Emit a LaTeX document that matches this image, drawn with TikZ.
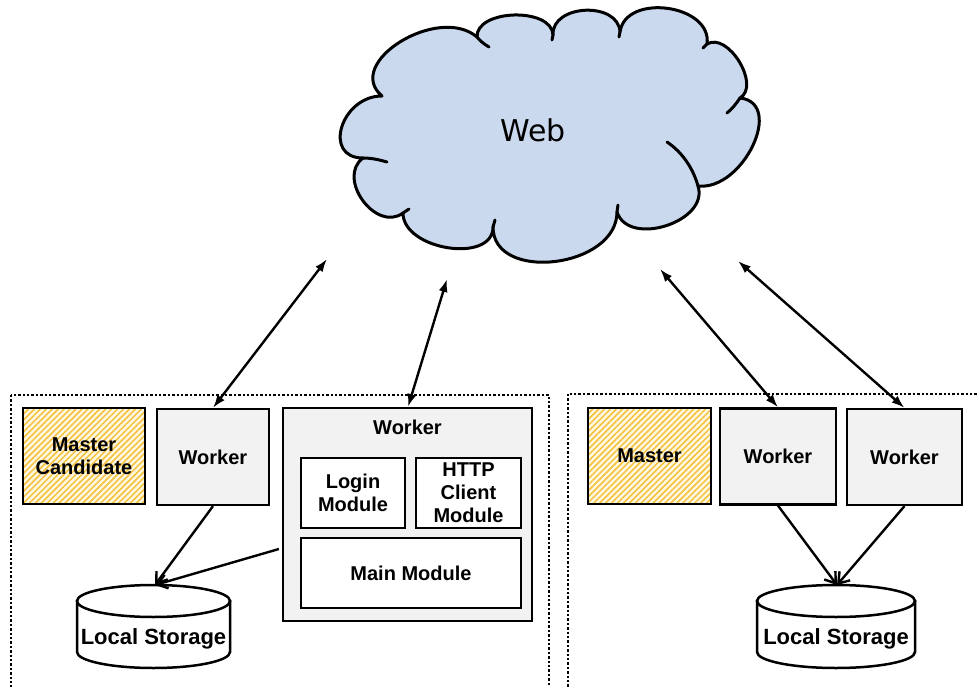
\documentclass[tikz,border=0pt]{standalone}
\usepackage{fontspec}
\setmainfont{Liberation Sans}
\newfontfamily\webfont{DejaVu Sans}
\usetikzlibrary{arrows.meta,patterns.meta,calc}
\definecolor{workerfill}{RGB}{242,242,242}
\definecolor{cloudfill}{RGB}{203,217,238}
\definecolor{masterbg}{RGB}{255,248,224}
\definecolor{masterline}{RGB}{245,192,60}
\tikzset{
  basebox/.style={draw, line width=2.2pt, inner sep=0pt, align=center,
    font=\bfseries\fontsize{20}{23}\selectfont},
  box/.style={basebox, fill=workerfill},
  modbox/.style={basebox, fill=white},
  masterbox/.style={basebox, preaction={fill=masterbg},
    preaction={pattern={Lines[angle=45,distance=4.2pt,line width=1.5pt]}, pattern color=masterline}},
  boxlabel/.style={inner sep=0pt, align=center, font=\bfseries\fontsize{20}{23}\selectfont},
  storelabel/.style={inner sep=0pt, font=\bfseries\fontsize{22}{24}\selectfont},
  container/.style={line width=2.4pt, dash pattern=on 2.4pt off 2pt},
  cloudline/.style={line width=3pt, line join=round},
  cylline/.style={line width=2.5pt, fill=white},
  webarrow/.style={line width=2.4pt, {Latex[length=13pt,width=9pt]}-{Latex[length=13pt,width=9pt]}},
  storearrow/.style={line width=2.4pt, -{Straight Barb[length=10pt,width=14pt,line width=2.4pt]}},
}
\newcommand{\storagecyl}[2]{%
  \begin{scope}[shift={(#1,0)}]
    \draw[cylline] (-#2,601) -- (-#2,652)
      .. controls (-#2,660.84) and ({-0.5523*#2},668) .. (0,668)
      .. controls ({0.5523*#2},668) and (#2,660.84) .. (#2,652)
      -- (#2,601) -- cycle;
    \draw[cylline] (0,601) ellipse[x radius=#2, y radius=16];
  \end{scope}}
\begin{document}
\begin{tikzpicture}[x=1pt,y=-1pt]
\useasboundingbox (0,0) rectangle (977,687);

% containers
\begin{scope}
  \clip (0,0) rectangle (977,687);
  \draw[container] (11,395) rectangle (549,700);
  \draw[container] (568,394) rectangle (990,700);
\end{scope}

% cloud
\draw[cloudline, fill=cloudfill]
  (477,37) .. controls (438,4) and (343,63) .. (382,96)
  .. controls (341,96) and (322,158) .. (363,158)
  .. controls (336,178) and (376,233) .. (403,213)
  .. controls (403,250) and (493,264) .. (493,227)
  .. controls (493,283) and (617,268) .. (617,212)
  .. controls (628.5,247.6) and (709.5,221.6) .. (698,186)
  .. controls (743,191) and (785,103) .. (740,98)
  .. controls (761,85.5) and (728,31.5) .. (707,44)
  .. controls (712.5,4.5) and (625.5,-7.5) .. (620,32)
  .. controls (618.5,1) and (551.5,4) .. (553,35)
  .. controls (552,7) and (476,9) .. (477,37) -- cycle;
\draw[cloudline, line cap=round]
  (477,37) .. controls (480,41) and (484,44) .. (489,47)
  (363,158) .. controls (372,158) and (380,160) .. (387,162)
  (403,213) -- (409,209)
  (493,227) -- (495,220)
  (617,212) -- (618,205)
  (698,186) .. controls (693,168) and (682,152) .. (667,142)
  (740,98) .. controls (736,104) and (732,109) .. (727,113)
  (707,44) -- (703,48)
  (620,32) -- (619,37)
  (553,35) -- (552,40);
\node[inner sep=0pt, font=\webfont\fontsize{30}{36}\selectfont] (web) at (533,130) {Web};

% left cluster
\node[masterbox, minimum width=122, minimum height=96] (mc) at (84,456) {Master\\Candidate};
\node[box, minimum width=112, minimum height=96] (w1) at (213,457) {Worker};
\node[box, minimum width=249, minimum height=213] (bw) at (407.5,514.5) {};
\node[boxlabel] (bwt) at (407.5,427) {Worker};
\node[modbox, minimum width=104, minimum height=70] (login) at (353,493) {Login\\Module};
\node[modbox, minimum width=105, minimum height=70] (http) at (468.5,493) {HTTP\\Client\\Module};
\node[modbox, minimum width=220, minimum height=70] (mainm) at (411,573) {Main Module};

\storagecyl{153.5}{76.5}
\node[storelabel] (ls1) at (153.5,639) {Local Storage};
\coordinate (ls1top) at (155,585);

% right cluster
\node[masterbox, minimum width=123, minimum height=96] (ms) at (649.5,456) {Master};
\node[box, minimum width=116, minimum height=96] (w2) at (778,456.5) {Worker};
\node[box, minimum width=115, minimum height=96] (w3) at (904.5,457) {Worker};

\storagecyl{836}{79}
\node[storelabel] (ls2) at (836,639) {Local Storage};
\coordinate (ls2top) at (837,585);

% free ends near the cloud
\coordinate (e1) at (327,259);
\coordinate (e2) at (447,279);
\coordinate (e3) at (660,269);
\coordinate (e4) at (738,261);

% connectors
\draw[webarrow] (e1) -- (w1.north);
\draw[webarrow] (e2) -- ([xshift=0.5pt]bw.north);
\draw[webarrow] (e3) -- (w2.north);
\draw[webarrow] (e4) -- (w3.north);

\draw[storearrow] (w1.south) -- (ls1top);
\draw[storearrow] ([xshift=-3pt,yshift=-34.5pt]bw.west) -- (ls1top);
\draw[storearrow] (w2.south) -- (ls2top);
\draw[storearrow] (w3.south) -- (ls2top);
\end{tikzpicture}
\end{document}
